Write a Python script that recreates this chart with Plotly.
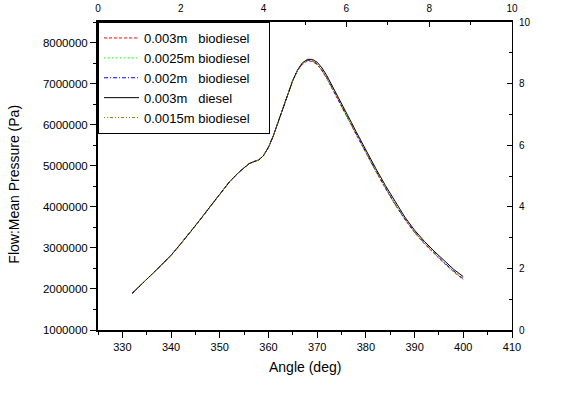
import plotly.graph_objects as go

ANGLE = [332, 334, 336, 338, 340, 342, 344, 346, 348, 350, 352, 354, 355, 356, 357, 358,
         359, 360, 361, 362, 363, 364, 365, 366, 367, 368, 369, 370, 371, 372, 373, 374,
         375, 376, 377, 378, 379, 380, 382, 384, 386, 388, 390, 392, 394, 396, 398, 400]

RISE = [1.89, 2.11, 2.35, 2.58, 2.82, 3.10, 3.39, 3.69, 4.00, 4.32, 4.61, 4.85, 4.96, 5.05,
        5.10, 5.14, 5.25, 5.45, 5.73, 6.07, 6.42, 6.76, 7.08]

DIESEL_003 = RISE + [7.34, 7.51, 7.59, 7.59, 7.52, 7.38, 7.19, 6.97, 6.75, 6.52, 6.29, 6.06,
                     5.83, 5.60, 5.38, 4.94, 4.52, 4.12, 3.75, 3.43, 3.16, 2.92, 2.69, 2.48, 2.30]
BIO_003 = RISE + [7.32, 7.48, 7.55, 7.54, 7.46, 7.31, 7.12, 6.90, 6.68, 6.45, 6.22, 5.99,
                  5.76, 5.53, 5.31, 4.87, 4.45, 4.05, 3.69, 3.37, 3.10, 2.86, 2.63, 2.42, 2.23]
BIO_0025 = RISE + [7.33, 7.49, 7.56, 7.55, 7.47, 7.32, 7.13, 6.91, 6.69, 6.46, 6.23, 6.00,
                   5.77, 5.54, 5.32, 4.88, 4.46, 4.06, 3.70, 3.38, 3.11, 2.87, 2.64, 2.43, 2.24]
BIO_002 = RISE + [7.33, 7.50, 7.57, 7.56, 7.48, 7.33, 7.14, 6.92, 6.70, 6.47, 6.24, 6.01,
                  5.78, 5.55, 5.33, 4.89, 4.47, 4.07, 3.71, 3.39, 3.12, 2.88, 2.65, 2.44, 2.25]
BIO_0015 = RISE + [7.33, 7.49, 7.56, 7.55, 7.47, 7.32, 7.13, 6.91, 6.69, 6.46, 6.23, 6.00,
                   5.77, 5.54, 5.32, 4.88, 4.46, 4.06, 3.70, 3.38, 3.11, 2.87, 2.64, 2.43, 2.24]

UNIT = 1e6  # values above are in millions of Pa

NBSP = "\u00a0"
PAD = NBSP * 4 + "\u200b"
NAMES = ["0.003m" + NBSP * 3 + "biodiesel" + PAD,
         "0.0025m" + NBSP + "biodiesel" + PAD,
         "0.002m" + NBSP * 3 + "biodiesel" + PAD,
         "0.003m" + NBSP * 3 + "diesel" + PAD,
         "0.0015m" + NBSP + "biodiesel" + PAD]
SERIES = [BIO_003, BIO_0025, BIO_002, DIESEL_003, BIO_0015]
COLORS = ["#FF0000", "#00FF00", "#0000FF", "#000000", "#808000"]
DASHES = ["3px,2px", "1px,3px", "4px,2px,1px,2px", "solid", "1px,2px,1px,2px,3px,2px"]

FONT = "Liberation Sans, Arial, sans-serif"

fig = go.Figure()
for name, vals, col, dash in zip(NAMES, SERIES, COLORS, DASHES):
    fig.add_trace(go.Scatter(
        x=ANGLE, y=[v * UNIT for v in vals], mode="lines", name=name,
        line=dict(color=col, width=1, dash=dash), xaxis="x", yaxis="y"))

# invisible trace to make the secondary (top/right) axes render
fig.add_trace(go.Scatter(x=[0, 10], y=[0, 10], mode="lines", line=dict(width=0, color="rgba(0,0,0,0)"),
                         xaxis="x2", yaxis="y2", showlegend=False, hoverinfo="skip"))

fig.update_layout(
    width=566, height=393,
    margin=dict(l=98, r=54, t=22, b=63, pad=0, autoexpand=False),
    paper_bgcolor="white", plot_bgcolor="white",
    font=dict(family=FONT, color="black"),
    showlegend=True,
    legend=dict(x=0, y=1, xanchor="left", yanchor="top", bgcolor="white",
                bordercolor="black", borderwidth=1, font=dict(family=FONT, size=13, color="black"),
                tracegroupgap=0, itemwidth=35),
    xaxis=dict(range=[325, 410], tick0=330, dtick=10, ticks="outside", ticklen=6, tickwidth=1,
               tickcolor="black", showline=True, linecolor="black", linewidth=2, showgrid=False,
               zeroline=False, tickfont=dict(size=11, family=FONT), automargin=False,
               minor=dict(dtick=5, ticks="outside", ticklen=3, tickcolor="black", showgrid=False)),
    yaxis=dict(range=[1e6, 8.5e6], tick0=1e6, dtick=1e6, tickformat="d", ticks="outside", ticklen=6,
               tickwidth=1, tickcolor="black", showline=True, linecolor="black", linewidth=2,
               showgrid=False, zeroline=False, tickfont=dict(size=11.5, family=FONT), automargin=False,
               minor=dict(dtick=5e5, ticks="outside", ticklen=3, tickcolor="black", showgrid=False)),
    xaxis2=dict(range=[0, 10], overlaying="x", side="top", tick0=0, dtick=2, ticks="inside",
                ticklen=5, tickcolor="black", showline=True, linecolor="black", linewidth=2,
                showgrid=False, zeroline=False, tickfont=dict(size=10, family=FONT),
                ticklabelstandoff=4, automargin=False,
                minor=dict(dtick=1, ticks="inside", ticklen=3, tickcolor="black", showgrid=False)),
    yaxis2=dict(range=[0, 10], overlaying="y", side="right", anchor="x2", tick0=0, dtick=2,
                ticks="inside", ticklen=5, tickcolor="black", showline=True, linecolor="black",
                linewidth=1, showgrid=False, zeroline=False, tickfont=dict(size=10, family=FONT),
                ticklabelstandoff=4, automargin=False,
                minor=dict(dtick=1, ticks="inside", ticklen=3, tickcolor="black", showgrid=False)),
    annotations=[
        dict(text="Angle (deg)", x=0.5, y=-0.12, xref="paper", yref="paper", showarrow=False,
             xanchor="center", yanchor="middle", font=dict(size=14, family=FONT)),
        dict(text="Flow:Mean Pressure (Pa)", x=-0.203, y=0.475, xref="paper", yref="paper",
             showarrow=False, textangle=-90, xanchor="center", yanchor="middle",
             font=dict(size=14, family=FONT)),
    ],
)

fig.write_html("out.html", config={"displayModeBar": False},
               post_script="document.body.style.margin='0px';")
